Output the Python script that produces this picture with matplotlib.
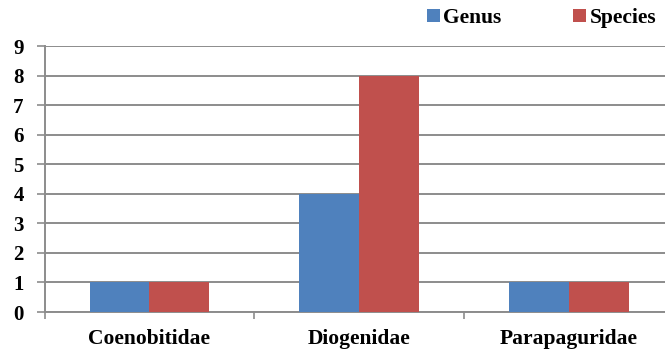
import matplotlib
matplotlib.use("Agg")
import matplotlib.pyplot as plt
import numpy as np

families = ["Coenobitidae", "Diogenidae", "Parapaguridae"]
genus = [1, 4, 1]
species = [1, 8, 1]
series_names = ["Genus", "Species"]
y_ticks = [0, 1, 2, 3, 4, 5, 6, 7, 8, 9]

plt.rcParams["font.family"] = ["Liberation Serif", "DejaVu Serif"]
plt.rcParams["font.weight"] = "bold"

fig = plt.figure(figsize=(6.65, 3.52), dpi=100)
ax = fig.add_axes([0.067, 0.1136, 0.9465, 0.7556])

x = np.arange(len(families))
w = 1 / 3.5
ax.bar(x - w / 2, genus, width=w, color="#4F81BD", label=series_names[0], zorder=3)
ax.bar(x + w / 2, species, width=w, color="#C0504D", label=series_names[1], zorder=3)

ax.set_xlim(-0.5, 2.5)
ax.set_ylim(0, 9)
ax.set_yticks(y_ticks)
ax.yaxis.grid(True, color="#8C8C8C", linewidth=1.4, zorder=0)
ax.set_axisbelow(True)

ax.set_xticks([-0.5, 0.5, 1.5, 2.5])
ax.set_xticklabels([])
ax.set_xticks(x, minor=True)
ax.set_xticklabels(families, minor=True, fontsize=15.5, fontweight="bold")
ax.tick_params(axis="x", which="major", length=5, color="#8C8C8C", width=1.2)
ax.tick_params(axis="x", which="minor", length=0, pad=12)
ax.tick_params(axis="y", length=6, color="#8C8C8C", width=1.2, labelsize=15, pad=9)
for lab in ax.get_yticklabels():
    lab.set_fontweight("bold")

for side in ["top", "right"]:
    ax.spines[side].set_visible(False)
for side in ["left", "bottom"]:
    ax.spines[side].set_color("#8C8C8C")
    ax.spines[side].set_linewidth(1.4)

leg = fig.legend(loc="center left", bbox_to_anchor=(0.6256, 0.949), ncol=2,
                 frameon=False, borderpad=0, handlelength=0.6, handleheight=0.6,
                 handletextpad=0.15, columnspacing=3.35,
                 prop={"weight": "bold", "size": 15.5})

fig.savefig("out.png", dpi=100)
